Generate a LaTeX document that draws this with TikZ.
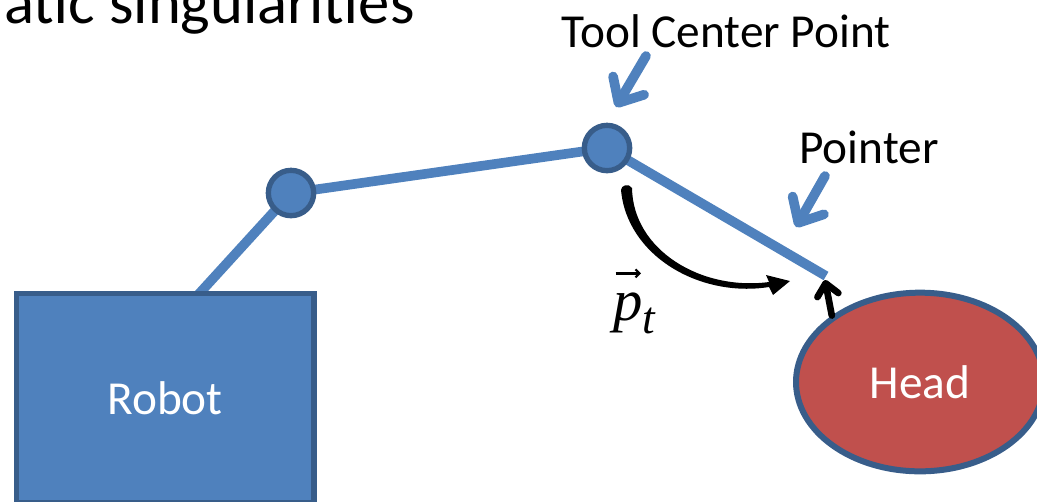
\documentclass[tikz,border=0pt]{standalone}
\usepackage{fontspec}
\setmainfont{Carlito}
\newfontfamily\timesfam{Liberation Serif}
\usetikzlibrary{arrows.meta,shapes.geometric}
\definecolor{accblue}{HTML}{4F81BD}
\definecolor{accdark}{HTML}{385D8A}
\definecolor{accred}{HTML}{C0504D}
\pgfdeclarelayer{bg}
\pgfsetlayers{bg,main}
\begin{document}
\begin{tikzpicture}[x=0.75pt,y=-0.75pt,
  link/.style={accblue,line width=7.25pt},
  joint/.style={circle,fill=accblue,draw=accdark,line width=4pt,minimum size=34pt,inner sep=0pt},
  lbl/.style={font=\fontsize{35.5}{42}\selectfont,inner sep=0pt},
  callout/.style={accblue,line width=7.25pt,line cap=round,line join=round,-{Straight Barb[length=15pt,width=27pt,round]}},
  blockbox/.style={draw=accdark,fill=accblue,line width=4.25pt,text=white,inner sep=0pt},
]
\useasboundingbox (0,0) rectangle (1037,501);

% title fragment
\node[font=\fontsize{47}{56}\selectfont,inner sep=0pt,anchor=base east] (title) at (415,23) {atic singularities};

% robot base
\node[blockbox,lbl,text=white,minimum width=223pt,minimum height=157pt] (robot) at (165,398) {Robot};

% joints
\node[joint] (j1) at (291,193) {};
\node[joint] (j2) at (607,148) {};

% head
\node[ellipse,draw=accdark,fill=accred,line width=4.5pt,minimum width=186pt,minimum height=134pt,inner sep=0pt,text=white,lbl] (head) at (920,382) {Head};

% links
\coordinate (base) at (197,296);
\coordinate (ptr) at (826,276);
\begin{pgfonlayer}{bg}
\draw[link] (base) -- (j1.center);
\draw[link] (j1.center) -- (j2.center);
\draw[link] (j2.center) -- (ptr);
\end{pgfonlayer}

% black arrow from head to pointer end
\coordinate (ptrtip) at (825,280);
\draw[line width=5pt,line cap=round,-{Straight Barb[length=9pt,width=16pt,round]}] (head.143.6) -- (ptrtip);

% labels and callouts
\node[lbl,anchor=base] (tcplabel) at (726,47) {Tool Center Point};
\node[lbl,anchor=base] (ptrlabel) at (869,163) {Pointer};
\coordinate (tcpTail) at (646,56);
\coordinate (tcpTip) at (616,107);
\draw[callout] (tcpTail) -- (tcpTip);
\coordinate (ptrTail) at (825,176);
\coordinate (ptrTip) at (796,227);
\draw[callout] (ptrTail) -- (ptrTip);

% curved brush arrow
\fill (632,188) .. controls (633,250) and (701,291) .. (769,282)
  -- (766,275) -- (790,281) -- (773,295) -- (769,287)
  .. controls (700,298) and (627,256) .. (621,190)
  .. controls (621,185) and (629,183) .. (632,188) -- cycle;

% p_t label
\node[inner sep=0pt,anchor=base west,font=\timesfam\itshape\fontsize{44}{48}\selectfont] (pt) at (613,320) {p\raisebox{-10pt}{\fontsize{34}{36}\selectfont t}};
\draw[line width=1.6pt,-{Straight Barb[length=3pt,width=6pt]}] ([xshift=2pt,yshift=14pt]pt.north west) -- ([xshift=21pt,yshift=14pt]pt.north west);
\end{tikzpicture}
\end{document}
